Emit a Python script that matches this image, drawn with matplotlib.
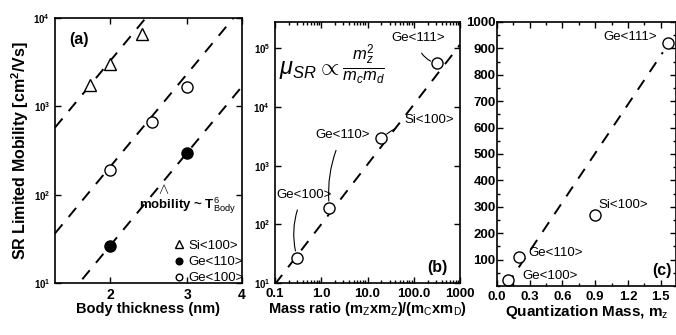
import numpy as np
import matplotlib
matplotlib.use("Agg")
import matplotlib.pyplot as plt
from matplotlib.ticker import FixedLocator, FuncFormatter, LogLocator, NullFormatter, MultipleLocator

plt.rcParams['font.family'] = ['Liberation Sans', 'DejaVu Sans']
plt.rcParams['mathtext.fontset'] = 'custom'
plt.rcParams['mathtext.rm'] = 'Liberation Sans'
plt.rcParams['mathtext.it'] = 'Liberation Sans:italic'
plt.rcParams['mathtext.bf'] = 'Liberation Sans:bold'

# (a) mobility vs body thickness
si100_t = [1.8, 2.0, 2.37]
si100_mu = [1750, 3000, 6600]
ge110_t = [2.0, 3.0]
ge110_mu = [26, 295]
ge100_t = [2.0, 2.5, 3.0]
ge100_mu = [190, 660, 1650]
# T^6 guide lines, prefactors
guide_a = [50.5, 3.2, 0.41]

# (b) mobility vs mass ratio
b_names = ['Ge<100>', 'Ge<110>', 'Si<100>', 'Ge<111>']
b_ratio = [0.3, 1.5, 20, 320]
b_mu = [27, 190, 2900, 55000]

# (c) mobility vs quantization mass
c_names = ['Ge<100>', 'Ge<110>', 'Si<100>', 'Ge<111>']
c_mz = [0.10, 0.20, 0.90, 1.57]
c_mu = [23, 110, 270, 920]


def log_fmt(v, pos):
    e = int(round(np.log10(v)))
    return r'$\mathbf{10^{%d}}$' % e


fig = plt.figure(figsize=(6.76, 3.35), dpi=100)
W, H = 676, 335


def px_axes(l, r, t, b):
    return fig.add_axes([l / W, 1 - b / H, (r - l) / W, (b - t) / H])


ax1 = px_axes(55, 242, 18, 283)
ax2 = px_axes(275, 460, 22, 283)
ax3 = px_axes(497, 676, 22, 286)

for ax in (ax1, ax2, ax3):
    for s in ax.spines.values():
        s.set_linewidth(1.2)
    ax.tick_params(which='both', direction='in', top=True, right=True, width=1)
    ax.tick_params(which='major', length=4)
    ax.tick_params(which='minor', length=2)

# ---- panel (a)
ax1.set_xscale('log')
ax1.set_yscale('log')
tt = np.linspace(1.5, 4, 100)
for A in guide_a:
    ax1.plot(tt, A * tt ** 6, ls=(0, (6, 5)), color='black', lw=1.4)
ax1.plot(si100_t, si100_mu, '^', ms=9, mfc='white', mec='black', mew=1, label='Si<100>')
ax1.plot(ge110_t, ge110_mu, 'o', ms=8, mfc='black', mec='black', label='Ge<110>')
ax1.plot(ge100_t, ge100_mu, 'o', ms=8, mfc='white', mec='black', mew=1, label='Ge<100>')
ax1.set_xlim(1.5, 4)
ax1.set_ylim(10, 1e4)
ax1.xaxis.set_major_locator(FixedLocator([2, 3, 4]))
ax1.xaxis.set_major_formatter(FuncFormatter(lambda v, p: '%d' % v))
ax1.xaxis.set_minor_formatter(NullFormatter())
ax1.xaxis.set_minor_locator(FixedLocator([]))
ax1.yaxis.set_major_locator(FixedLocator([10, 100, 1e3, 1e4]))
ax1.yaxis.set_minor_locator(FixedLocator([]))
ax1.yaxis.set_major_formatter(FuncFormatter(log_fmt))
ax1.tick_params(axis='y', labelsize=7)
ax1.tick_params(axis='x', labelsize=10)
for lbl in ax1.get_xticklabels():
    lbl.set_fontweight('bold')
ax1.set_xlabel('Body thickness (nm)', fontsize=10.5, fontweight='bold', labelpad=0)
ax1.set_ylabel('SR Limited Mobility [cm$^\\mathbf{2}$/Vs]', fontsize=11.5, fontweight='bold', labelpad=2)
ax1.text(0.13, 0.92, '(a)', transform=ax1.transAxes, fontsize=11.5, fontweight='bold', ha='center', va='center')
ax1.text(0.45, 0.29, r'mobility ~ T$_{\rm Body}^{6}$', transform=ax1.transAxes, fontsize=9.5,
         fontweight='bold', ha='left', va='center')
ax1.text(0.58, 0.35, r'$\wedge$', transform=ax1.transAxes, fontsize=11, ha='center', va='center')
ax1.legend(loc='lower left', bbox_to_anchor=(0.57, -0.04), frameon=False, fontsize=9.5,
           handletextpad=0.1, labelspacing=0.3, borderpad=0.2, handlelength=1.2, markerscale=0.6)

# ---- panel (b)
ax2.set_xscale('log')
ax2.set_yscale('log')
xx = np.array([0.1, 1000])
ax2.plot(xx, 100 * xx ** 1.02, ls=(0, (6, 5)), color='black', lw=1.4)
ax2.plot(b_ratio, b_mu, 'o', ms=8, mfc='white', mec='black', mew=1)
ax2.set_xlim(0.1, 1000)
ax2.set_ylim(10, 2.8e5)
ax2.xaxis.set_major_locator(FixedLocator([0.1, 1, 10, 100, 1000]))
ax2.xaxis.set_major_formatter(FuncFormatter(lambda v, p: '%d' % v if v >= 1000 else '%.1f' % v))
ax2.xaxis.set_minor_locator(LogLocator(base=10, subs=np.arange(2, 10)))
ax2.xaxis.set_minor_formatter(NullFormatter())
ax2.yaxis.set_major_locator(FixedLocator([10, 100, 1e3, 1e4, 1e5]))
ax2.yaxis.set_major_formatter(FuncFormatter(log_fmt))
ax2.yaxis.set_minor_locator(FixedLocator([]))
ax2.tick_params(axis='y', labelsize=7)
ax2.tick_params(axis='x', labelsize=9.5)
for lbl in ax2.get_xticklabels():
    lbl.set_fontweight('bold')
ax2.set_xlabel(r'Mass ratio (m$_{\rm Z}$xm$_{\rm Z}$)/(m$_{\rm C}$xm$_{\rm D}$)', fontsize=10.5,
               fontweight='bold', labelpad=0)
ax2.text(0.31, 0.84, r'$\mu_{SR}\propto\frac{m_z^2}{m_c m_d}$', transform=ax2.transAxes,
         fontsize=17, ha='center', va='center')
ax2.text(0.88, 0.06, '(b)', transform=ax2.transAxes, fontsize=11.5, fontweight='bold', ha='center', va='center')
b_text = [(0.42, 320), (2.9, 3300), (220, 5900), (125, 1.5e5)]
b_rad = [0.2, 0.15, 0.2, 0.4]
for name, x, y, (tx, ty), rad in zip(b_names, b_ratio, b_mu, b_text, b_rad):
    ax2.annotate(name, xy=(x, y), xytext=(tx, ty), fontsize=9.5, ha='center', va='center',
                 arrowprops=dict(arrowstyle='-', lw=0.8, color='black', shrinkA=5, shrinkB=5,
                                 connectionstyle='arc3,rad=%.2f' % rad))

# ---- panel (c)
mm = np.array([0.09, 1.52])
ax3.plot(mm, 617 * (mm - 0.085), ls=(0, (6, 5)), color='black', lw=1.4)
ax3.plot(c_mz, c_mu, 'o', ms=8, mfc='white', mec='black', mew=1)
ax3.set_xlim(0, 1.64)
ax3.set_ylim(0, 1000)
ax3.xaxis.set_major_locator(MultipleLocator(0.3))
ax3.xaxis.set_minor_locator(MultipleLocator(0.15))
ax3.yaxis.set_major_locator(FixedLocator(np.arange(100, 1001, 100)))
ax3.yaxis.set_minor_locator(MultipleLocator(50))
ax3.xaxis.set_major_formatter(FuncFormatter(lambda v, p: '%.1f' % v))
ax3.tick_params(labelsize=9.5)
for lbl in ax3.get_xticklabels() + ax3.get_yticklabels():
    lbl.set_fontweight('bold')
ax3.yaxis.set_tick_params(pad=1)
ax3.set_xlabel(r'Quantization Mass, m$_{\rm z}$', fontsize=11, fontweight='bold', labelpad=0)
ax3.text(0.92, 0.06, '(c)', transform=ax3.transAxes, fontsize=11.5, fontweight='bold', ha='center', va='center')
ax3.text(1.47, 945, 'Ge<111>', fontsize=9.5, ha='right', va='center')
ax3.text(0.93, 305, 'Si<100>', fontsize=9.5, ha='left', va='center')
ax3.text(0.29, 125, 'Ge<110>', fontsize=9.5, ha='left', va='center')
ax3.text(0.23, 38, 'Ge<100>', fontsize=9.5, ha='left', va='center')

fig.savefig('out.png', dpi=100)
